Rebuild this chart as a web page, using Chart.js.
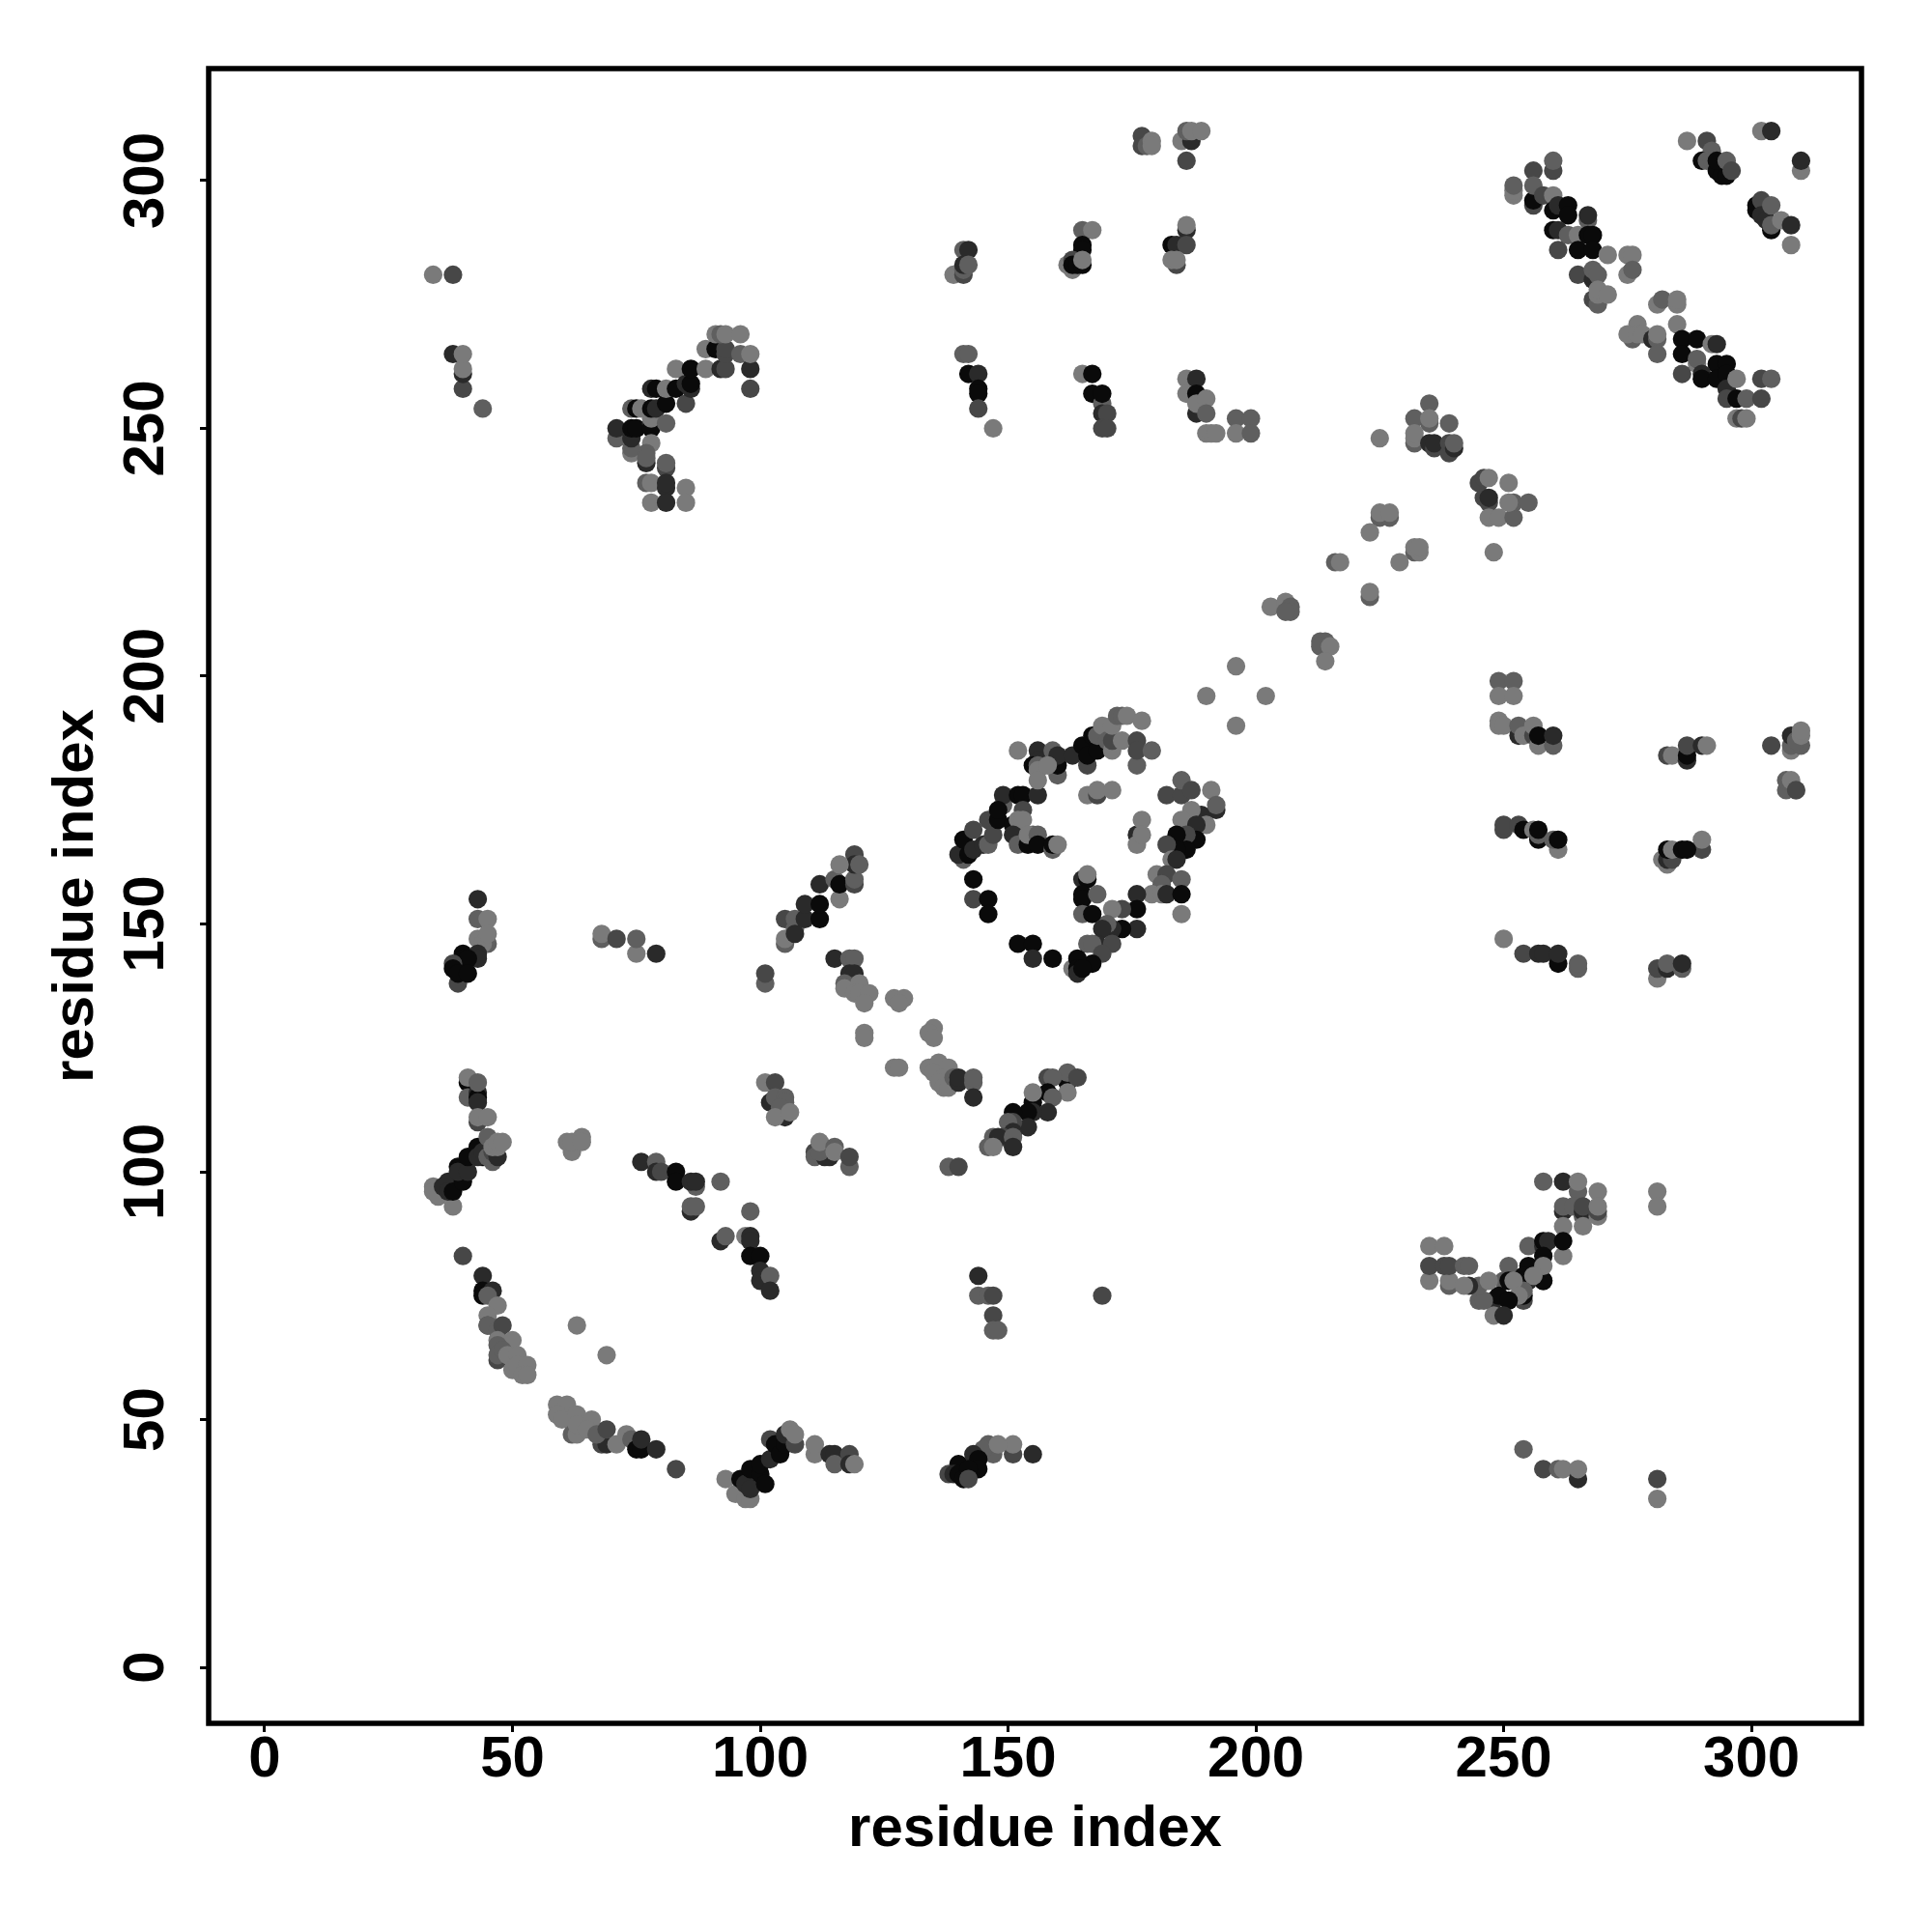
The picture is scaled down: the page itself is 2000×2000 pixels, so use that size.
<!DOCTYPE html>
<html>
<head>
<meta charset="utf-8">
<title>residue contact map</title>
<style>
  html, body { margin: 0; padding: 0; background: #fff; }
  canvas { display: block; }
</style>
<script src="https://cdn.jsdelivr.net/npm/chart.js@4/dist/chart.umd.min.js"></script>
</head>
<body>
<canvas id="contactMap" width="2000" height="2000"></canvas>
<script>
// --- Axis data ---
const tickValues = [0, 50, 100, 150, 200, 250, 300];
const axisTitle = 'residue index';
const xAxisRange = [-11.3, 322.2];
const yAxisRange = [-11.3, 322.6];

// grey for each contact level, 0 = strongest
const levelGreys = ['#0a0a0a', '#2a2a2a', '#474747', '#5f5f5f', '#7a7a7a'];

// --- Contacts: [residue i, residue j, level] ---
const lowerLeftA = [[41,118,0],[41,115,3],[43,116,1],[43,115,0],[43,114,1],[43,110,2],[41,119,4],[43,118,3],[43,111,4],[45,111,4]];
const lowerLeftB = [[34,97,4],[34,96,4],[35,96,4],[35,95,4],[38,93,4],[37,98,1],[36,97,1],[37,96,1],[38,96,0],[40,98,0],[39,101,0],[39,100,1],[41,100,1],[41,103,0],[43,105,0],[44,103,0],[43,103,1],[44,104,1],[45,103,3],[46,102,3],[45,107,3],[46,104,2],[47,103,1],[46,105,4],[47,105,4],[47,106,4],[48,106,4]];
const lowerLeftC = [[62,105,2],[62,104,4],[61,106,4],[62,106,4],[64,107,4],[64,106,4]];
const strandD = [[76,102,1],[79,102,3],[79,100,1],[80,100,2],[83,100,0],[83,98,0],[87,97,3],[86,98,1],[87,98,1],[92,98,3],[86,92,1],[86,93,3],[87,93,3],[98,92,3],[92,86,1],[93,87,3],[97,87,4],[98,87,1],[98,86,1],[98,83,0],[100,83,0],[100,80,1],[100,78,1],[102,79,3],[102,76,1]];
const strandE = [[101,118,4],[103,118,2],[102,114,1],[105,111,1],[103,115,3],[105,115,3],[105,114,3],[104,113,3],[103,111,4],[106,112,4]];
const strandF = [[111,104,2],[111,103,3],[113,103,1],[114,103,1],[112,104,3],[112,106,4],[115,105,3],[115,104,4],[118,101,3],[118,103,2]];
const arcG = [[40,83,2],[44,79,1],[44,76,0],[44,75,0],[46,76,1],[45,75,3],[47,73,4],[45,71,4],[45,69,2],[45,69,3],[47,68,3],[48,69,2],[47,66,4],[50,66,4],[47,65,3],[47,62,2],[47,63,3],[48,64,3],[49,63,4],[51,63,4],[50,60,4],[51,61,4],[53,61,4],[52,59,4],[53,59,4],[63,69,4],[69,63,4]];
const arcH = [[59,53,4],[61,53,4],[59,51,4],[60,50,4],[63,51,4],[62,47,3],[63,47,4],[63,49,4],[66,50,4],[65,48,4],[68,45,2],[69,45,1],[67,47,3],[69,48,2],[71,45,4],[73,47,4],[74,46,3],[75,44,0],[76,44,0],[76,46,1],[79,44,1],[83,40,2]];
const clusterI = [[93,38,4],[95,35,4],[97,34,4],[98,34,4],[96,38,0],[97,37,1],[98,36,1],[98,40,0],[100,39,0],[100,41,0],[101,37,0],[102,42,1],[102,46,2],[103,45,0],[104,43,0],[105,45,0],[105,47,1],[107,45,2],[106,48,4],[107,47,4],[111,43,4],[111,45,4],[114,43,1],[115,43,1],[115,41,3],[118,43,2],[118,41,1],[119,41,4]];
const upperLeft = [[43,155,1],[43,151,3],[45,151,4],[45,146,3],[43,147,4],[44,146,4],[45,148,4],[40,144,0],[43,144,1],[43,143,1],[40,143,0],[41,143,0],[38,142,2],[38,141,0],[39,138,2],[39,140,0],[41,140,0]];
const strandJ = [[68,147,3],[68,148,4],[71,147,2],[75,144,4],[75,147,3],[79,144,1],[101,138,3],[101,140,2]];
const helixK = [[115,143,1],[118,143,3],[119,143,3],[105,146,3],[105,147,4],[105,151,2],[107,149,3],[107,151,3],[107,148,1],[109,151,1],[112,151,0],[109,154,1],[112,154,0],[112,158,1],[116,155,4],[115,159,3],[116,158,0],[119,158,2],[119,159,3],[119,164,2],[119,162,1],[116,162,4],[120,162,3]];
const chainL = [[118,140,1],[119,140,1],[117,138,3],[117,137,4],[120,138,4],[119,136,4],[120,136,4],[122,136,4],[121,134,4],[121,128,4],[121,127,4],[127,135,4],[129,135,4],[128,134,4],[135,129,4],[134,128,4],[135,127,4],[127,121,4],[128,121,4]];
const chainM = [[134,121,4],[136,122,4],[135,120,4],[138,121,4],[137,119,4],[136,118,4],[137,117,4],[138,117,4],[139,119,3],[140,118,1],[140,119,1],[143,118,3],[143,119,3],[143,115,1]];
const chainN = [[162,118,0],[162,120,3],[164,119,2],[158,119,2],[159,119,3],[158,116,0],[155,114,0],[155,116,4],[162,116,4],[159,115,3],[158,112,1],[155,112,1],[154,112,0],[151,112,0],[154,109,1],[151,110,2],[150,110,3],[151,108,1],[149,107,2],[147,107,3],[148,107,1],[151,107,3],[151,105,1],[146,105,3],[147,105,4],[138,101,3],[140,101,2]];
const lowerMid = [[144,79,1],[144,75,3],[146,75,3],[147,75,2],[147,71,2],[147,68,3],[148,68,3],[169,75,2]];
const clusterP = [[155,43,1],[151,43,2],[151,45,4],[147,43,3],[146,45,3],[145,44,3],[148,45,4],[143,43,1],[144,42,0],[144,40,0],[140,41,0],[138,39,2],[139,39,1],[140,39,0],[141,38,0],[142,40,0],[142,38,2]];

const ringLeft = [[141,163,3],[140,164,1],[142,164,0],[141,167,0],[143,165,1],[145,166,1],[143,169,2],[146,166,3],[146,171,2],[147,168,2],[148,171,0],[149,174,3],[149,176,1],[148,173,0],[152,176,0],[153,176,0],[156,176,1],[153,173,2],[151,170,0],[152,171,4],[153,171,4],[151,168,1],[152,166,3],[154,166,0],[155,168,3],[154,168,4],[156,168,3],[156,166,0],[159,165,3],[159,166,0],[160,166,4]];
const ringInner = [[143,159,0],[143,155,2],[146,155,0],[146,152,0],[152,146,0],[155,146,0],[155,143,1],[159,143,0],[166,176,4],[168,176,2],[168,177,4],[171,177,4],[176,168,1],[176,166,4],[177,171,4],[177,168,4]];
const ringTop = [[152,185,4],[156,185,1],[156,183,1],[155,182,0],[159,185,3],[156,182,3],[156,181,4],[156,179,4],[160,180,3],[160,182,0],[160,184,1],[158,182,4],[163,184,1],[165,186,0],[166,182,2],[166,184,0],[167,188,0],[168,185,0],[168,188,3],[169,190,4],[170,187,3],[171,185,4],[171,187,2],[171,190,4],[172,192,3],[173,192,3],[174,192,4],[173,187,4],[177,191,4],[176,182,3],[176,187,2],[176,185,2],[179,185,3]];
const ringRight = [[182,176,2],[185,176,2],[185,179,3],[187,177,2],[191,177,4],[189,172,1],[192,173,1],[192,174,3],[187,173,4],[185,171,4],[190,170,4],[188,170,1],[188,167,0],[186,168,2],[184,168,0],[186,165,0],[184,165,0],[182,166,2],[183,163,4],[184,163,1],[180,160,4],[182,160,2],[181,158,3],[185,159,3],[179,156,4],[181,156,4],[182,156,1],[185,156,0],[185,152,4]];
const ringBottom = [[176,149,1],[176,156,1],[176,153,0],[173,149,0],[171,149,1],[173,153,2],[171,153,4],[170,150,3],[165,159,1],[166,159,0],[166,160,4],[165,156,0],[165,155,0],[168,156,3],[165,152,3],[167,152,0],[169,149,1],[166,146,3],[168,146,1],[167,146,3],[171,146,2],[169,144,2],[167,142,0],[163,141,4],[164,143,0],[164,141,0],[164,140,1],[165,141,0]];

const diagonal = [[190,196,4],[196,190,4],[196,202,4],[202,196,4],[203,214,4],[206,215,4],[207,214,3],[207,213,3],[206,213,3],[213,207,3],[214,207,3],[213,206,3],[215,206,4],[214,203,4],[216,223,3],[217,223,4],[223,216,3],[223,217,4],[223,229,4],[229,223,4],[225,232,3],[227,232,3],[225,233,4],[227,233,4],[232,225,3],[233,225,4],[232,226,4],[233,226,4],[225,248,4]];
const diagonalTop = [[235,255,3],[232,252,3],[235,251,3],[235,252,4],[239,251,3],[232,247,3],[232,248,4],[232,249,4],[235,247,1],[236,246,2],[236,247,1],[239,245,2],[239,247,2],[240,246,1],[240,247,3],[245,239,2],[246,240,2],[247,240,4],[251,239,4],[246,236,2],[247,235,2],[247,236,1],[247,232,4],[249,232,4],[252,232,3],[252,235,3],[251,235,4],[255,235,3],[248,225,4]];

const rightA = [[249,199,3],[252,199,3],[249,196,4],[252,196,4],[249,191,4],[249,190,4],[250,190,4],[253,188,1],[253,190,3],[254,188,4],[256,188,2],[256,190,4],[257,186,4],[257,188,0],[260,186,3],[260,188,1]];
const rightB = [[283,184,2],[284,184,4],[287,183,1],[287,184,0],[287,186,2],[290,186,1],[291,186,4],[304,186,2],[308,185,4],[308,186,3],[308,188,1],[310,186,3],[309,187,3],[310,188,4],[310,189,4],[307,177,3],[309,177,4],[307,179,3],[308,179,4],[309,177,2]];
const rightC = [[250,169,2],[250,170,2],[253,170,2],[254,169,0],[256,169,4],[257,167,0],[257,168,3],[257,169,0],[261,165,4],[260,167,3],[261,167,0]];
const rightD = [[282,163,4],[283,162,4],[283,163,1],[284,163,2],[283,165,0],[284,165,4],[290,165,2],[290,167,4],[286,165,0],[287,165,0]];
const rightE = [[250,147,4],[254,144,2],[257,144,1],[258,144,1],[261,142,0],[261,144,1],[265,141,3],[265,142,3],[281,139,4],[281,141,2],[283,141,1],[283,142,3],[286,141,3],[286,142,1]];

const topMid = [[177,309,2],[177,307,2],[178,307,3],[179,308,4],[179,307,4],[185,308,4],[187,308,1],[186,310,3],[187,310,4],[189,310,4],[186,304,2]];
const topRowA = [[139,281,4],[141,286,3],[142,286,1],[141,281,2],[141,282,3],[141,283,1],[142,283,3]];
const topRowB = [[165,290,3],[167,290,4],[165,287,0],[165,286,0],[162,283,4],[163,282,4],[163,284,2],[163,283,0],[164,283,0],[165,283,0],[165,284,4]];
const topRowC = [[186,290,1],[186,291,4],[183,287,0],[184,287,1],[186,287,2],[184,283,2],[183,284,4],[184,284,4]];
const midRowA = [[141,265,3],[142,265,3],[142,261,0],[144,261,1],[144,258,0],[144,257,0],[144,254,2],[147,250,4]];
const midRowB = [[165,261,4],[167,261,0],[167,257,0],[169,255,3],[169,257,0],[169,253,1],[170,253,2],[169,250,2],[170,250,2]];
const midRowC = [[186,260,4],[188,260,1],[186,257,4],[188,257,0],[188,253,1],[188,255,4],[190,256,4],[190,253,3],[190,249,4],[191,249,4],[192,249,4],[196,252,3],[199,252,3],[196,249,4],[199,249,3]];

const bandA = [[260,302,2],[260,304,3],[256,302,2],[252,297,4],[252,298,4],[252,299,3],[256,295,2],[256,296,0],[256,299,3],[258,297,2],[260,297,4],[260,294,0],[261,295,1],[263,295,0],[263,293,0],[260,290,0],[261,290,1],[267,292,3],[267,293,1],[263,289,3],[265,289,4],[261,286,2],[265,286,0],[267,289,0],[268,289,0],[268,286,0],[271,285,4],[275,285,4],[276,285,4],[275,281,4],[276,282,3],[265,281,2],[268,280,1],[268,282,3],[269,281,3],[268,276,2],[269,275,3],[269,277,4],[269,278,4],[271,277,4]];
const bandB = [[281,275,4],[282,276,3],[285,275,4],[285,276,4],[285,271,4],[277,271,4],[276,268,3],[275,269,4],[277,269,4],[278,269,4],[280,268,1],[281,268,3],[281,269,4],[281,265,3],[286,268,0],[289,268,0],[286,265,0],[289,263,4],[289,264,3],[286,261,2],[292,267,4],[293,267,1],[290,261,1],[290,260,0],[293,263,0],[295,263,0],[293,260,0],[295,261,0],[295,258,1],[297,260,4],[295,256,2],[297,256,0],[299,256,3],[302,260,2],[304,260,3],[302,256,2],[297,252,4],[298,252,2],[299,252,4]];
const topRight = [[287,308,4],[291,308,2],[292,306,3],[290,304,0],[291,304,3],[292,304,3],[293,302,0],[294,301,0],[295,301,0],[293,304,0],[295,304,3],[296,302,2],[302,310,4],[304,310,1],[310,302,4],[310,304,1]];
const topRightB = [[301,295,0],[301,294,0],[302,296,2],[302,293,1],[303,292,1],[304,290,0],[304,291,3],[304,295,3],[306,292,4],[308,287,4],[308,291,1]];

const upperArc = [[71,248,3],[71,250,1],[74,245,4],[74,246,3],[74,248,1],[74,250,0],[75,250,0],[74,254,3],[75,254,0],[76,254,4],[78,251,1],[78,250,0],[78,252,4],[78,254,0],[79,254,1],[81,255,0],[81,251,3],[78,258,1],[79,258,0],[81,258,4],[83,258,0],[83,262,4],[85,255,2],[85,259,1],[86,258,1],[86,259,0],[86,262,0],[89,262,4],[89,266,4],[91,266,0],[92,262,1],[93,262,2],[93,265,2],[93,266,2],[91,269,4],[92,269,3],[93,269,4],[96,269,4],[96,265,3],[98,258,2],[98,262,1],[98,265,4]];
const upperArcTail = [[78,247,4],[77,245,3],[77,243,1],[77,244,3],[81,242,2],[81,243,3],[77,239,3],[78,239,4],[81,238,1],[81,239,1],[85,238,4],[78,235,4],[81,235,1],[85,235,4]];
const upperLeftB = [[34,281,4],[38,281,2],[38,265,1],[40,258,2],[40,261,1],[40,262,4],[40,265,4],[44,254,3]];

const lowerRightA = [[258,98,3],[262,98,1],[265,96,3],[265,98,4],[269,96,4],[262,92,1],[262,93,3],[264,93,3],[266,91,3],[266,92,1],[266,93,2],[269,91,4],[269,92,2],[269,93,4],[262,89,4],[266,89,4],[281,96,4],[281,93,4]];
const lowerRightB = [[255,85,3],[258,85,1],[258,86,0],[259,86,1],[262,83,4],[262,86,0],[258,83,0],[255,81,0],[258,78,1],[258,78,0],[258,81,4],[251,81,3],[254,79,0],[255,78,1],[254,78,0],[256,79,4],[254,74,2],[254,75,0],[254,76,3],[250,78,3],[251,78,0],[252,78,4],[253,75,4],[248,74,1],[249,75,0],[251,74,0],[248,71,4],[250,71,1],[245,74,3],[246,74,3],[245,77,3],[247,78,4],[243,77,1],[239,77,3],[239,78,4],[242,77,4],[235,78,4],[235,81,2],[238,81,2],[239,81,2],[242,81,3],[243,81,3],[235,85,4],[238,85,4]];
const lowerRightC = [[254,44,3],[258,40,2],[261,40,3],[262,40,4],[265,38,1],[265,40,4],[281,38,2],[281,34,4]];

const contacts = [
  ...lowerLeftA, ...lowerLeftB, ...lowerLeftC, ...strandD, ...strandE, ...strandF, ...arcG, ...arcH, ...clusterI,
  ...upperLeft, ...strandJ, ...helixK, ...chainL, ...chainM, ...chainN, ...lowerMid, ...clusterP,
  ...ringLeft, ...ringInner, ...ringTop, ...ringRight, ...ringBottom, ...diagonal, ...diagonalTop,
  ...rightA, ...rightB, ...rightC, ...rightD, ...rightE,
  ...topMid, ...topRowA, ...topRowB, ...topRowC, ...midRowA, ...midRowB, ...midRowC,
  ...bandA, ...bandB, ...topRight, ...topRightB, ...upperArc, ...upperArcTail, ...upperLeftB,
  ...lowerRightA, ...lowerRightB, ...lowerRightC
];

// --- Frame round the plot area ---
const framePlugin = {
  id: 'frame',
  afterDraw(chart) {
    const { ctx, chartArea: a } = chart;
    ctx.save();
    ctx.strokeStyle = '#000';
    ctx.lineWidth = 5.5;
    ctx.strokeRect(a.left, a.top, a.right - a.left, a.bottom - a.top);
    ctx.restore();
  }
};

const tickFont = { family: '"Liberation Sans"', size: 60, weight: 'bold', lineHeight: 1 };
const titleFont = { family: '"Liberation Sans"', size: 60, weight: 'bold', lineHeight: 1.2 };
const setTicks = scale => { scale.ticks = tickValues.map(value => ({ value })); };
const gridOpts = { drawOnChartArea: false, drawTicks: true, tickLength: 9, tickWidth: 3, tickColor: '#000' };

new Chart(document.getElementById('contactMap').getContext('2d'), {
  type: 'scatter',
  data: {
    datasets: [{
      label: 'contacts',
      data: contacts.map(c => ({ x: c[0], y: c[1] })),
      backgroundColor: contacts.map(c => levelGreys[c[2]]),
      borderWidth: 0,
      pointRadius: 9.6
    }]
  },
  plugins: [framePlugin],
  options: {
    responsive: false,
    animation: false,
    layout: { padding: { top: 71, right: 73, left: 0, bottom: 0 } },
    plugins: { legend: { display: false }, tooltip: { enabled: false } },
    scales: {
      x: {
        type: 'linear',
        min: xAxisRange[0],
        max: xAxisRange[1],
        afterBuildTicks: setTicks,
        afterFit: scale => { scale.height = 216; },
        grid: gridOpts,
        border: { display: false },
        ticks: { color: '#000', font: tickFont, padding: -1, maxRotation: 0, autoSkip: false },
        title: { display: true, text: axisTitle, color: '#000', font: titleFont, padding: { top: 0, bottom: 70 } }
      },
      y: {
        type: 'linear',
        min: yAxisRange[0],
        max: yAxisRange[1],
        afterBuildTicks: setTicks,
        afterFit: scale => { scale.width = 216; },
        grid: gridOpts,
        border: { display: false },
        ticks: { color: '#000', font: tickFont, padding: 4, minRotation: 90, maxRotation: 90, crossAlign: 'center', autoSkip: false },
        title: { display: true, text: axisTitle, color: '#000', font: titleFont, padding: { top: 43, bottom: 0 } }
      }
    }
  }
});
</script>
</body>
</html>
